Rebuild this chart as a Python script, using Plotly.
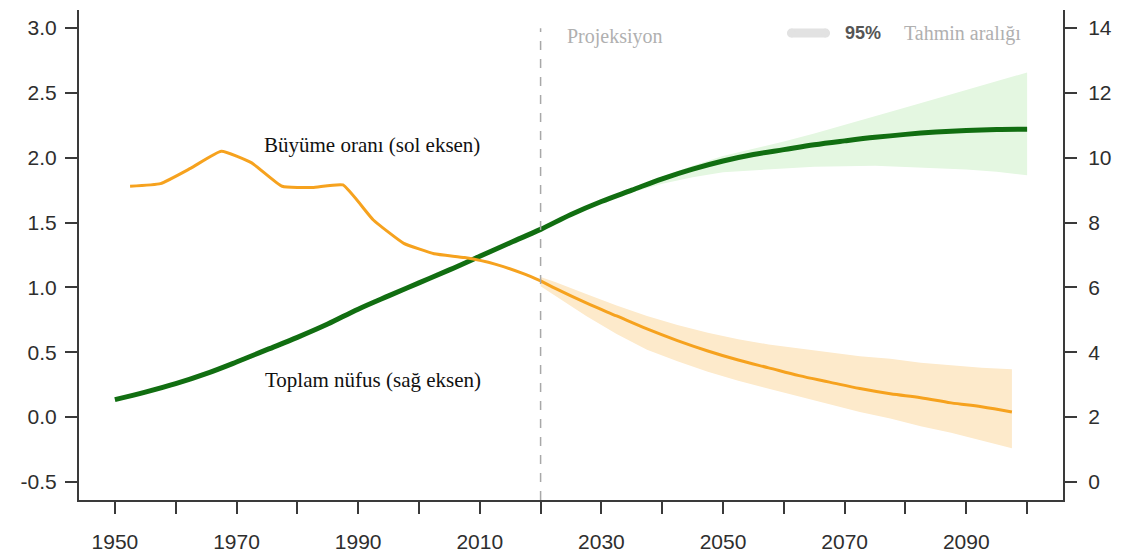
import plotly.graph_objects as go

# ---------------- data ----------------
pop_years = [1950, 1955, 1960, 1965, 1970, 1975, 1980, 1985, 1990, 1995, 2000, 2005, 2010, 2015,
             2020, 2025, 2030, 2035, 2040, 2045, 2050, 2055, 2060, 2065, 2070, 2075, 2080, 2085,
             2090, 2095, 2100]
pop_values = [2.54, 2.77, 3.03, 3.34, 3.70, 4.08, 4.46, 4.87, 5.33, 5.74, 6.14, 6.54, 6.96, 7.38,
              7.79, 8.25, 8.65, 9.00, 9.35, 9.65, 9.90, 10.10, 10.25, 10.40, 10.52, 10.63, 10.72,
              10.79, 10.84, 10.87, 10.88]

pop_band_years = [2020, 2025, 2030, 2035, 2040, 2045, 2050, 2055, 2060, 2065, 2070, 2075, 2080,
                  2085, 2090, 2095, 2100]
pop_upper = [7.80, 8.27, 8.68, 9.05, 9.42, 9.75, 10.05, 10.28, 10.50, 10.75, 11.01, 11.28, 11.55,
             11.82, 12.09, 12.36, 12.63]
pop_lower = [7.78, 8.22, 8.60, 8.93, 9.20, 9.40, 9.55, 9.62, 9.67, 9.72, 9.74, 9.75, 9.72, 9.68,
             9.64, 9.57, 9.46]

growth_hist_years = [1952.5, 1957.5, 1962.5, 1967.5, 1972.5, 1977.5, 1982.5, 1987.5, 1992.5,
                     1997.5, 2002.5, 2007.5, 2012.5, 2017.5, 2020]
growth_hist = [1.78, 1.80, 1.92, 2.05, 1.96, 1.78, 1.77, 1.79, 1.52, 1.34, 1.26, 1.23, 1.18, 1.10, 1.05]

growth_proj_years = [2020, 2022.5, 2027.5, 2032.5, 2037.5, 2042.5, 2047.5, 2052.5, 2057.5, 2062.5,
                     2067.5, 2072.5, 2077.5, 2082.5, 2087.5, 2092.5, 2097.5]
growth_proj = [1.05, 0.99, 0.88, 0.78, 0.68, 0.59, 0.51, 0.44, 0.38, 0.32, 0.27, 0.22, 0.18, 0.15,
               0.11, 0.08, 0.04]
growth_upper = [1.08, 1.04, 0.95, 0.86, 0.78, 0.71, 0.65, 0.60, 0.56, 0.53, 0.50, 0.47, 0.45, 0.42,
                0.40, 0.38, 0.37]
growth_lower = [1.01, 0.93, 0.78, 0.64, 0.52, 0.43, 0.35, 0.28, 0.22, 0.16, 0.10, 0.04, -0.01,
                -0.07, -0.12, -0.18, -0.24]

x_tickvals = [1950, 1960, 1970, 1980, 1990, 2000, 2010, 2020, 2030, 2040, 2050, 2060, 2070, 2080,
              2090, 2100]
x_ticktext = ["1950", "", "1970", "", "1990", "", "2010", "", "2030", "", "2050", "", "2070", "",
              "2090", ""]
left_tickvals = [-0.5, 0.0, 0.5, 1.0, 1.5, 2.0, 2.5, 3.0]
left_ticktext = ["-0.5", "0.0", "0.5", "1.0", "1.5", "2.0", "2.5", "3.0"]
right_tickvals = [0, 2, 4, 6, 8, 10, 12, 14]

projection_year = 2020

# ---------------- style ----------------
ORANGE = "#F6A21E"
ORANGE_BAND = "#FDEACB"
GREEN = "#116E11"
GREEN_BAND = "#E4F7E1"
AXIS = "#3a3a3a"
TICKFONT = dict(family="Liberation Sans, Arial, sans-serif", size=21, color="#2e2e2e")
SERIF = "Liberation Serif, Times New Roman, serif"

fig = go.Figure()

# green band (population, yaxis 'y' = right side)
fig.add_trace(go.Scatter(
    x=pop_band_years + pop_band_years[::-1],
    y=pop_upper + pop_lower[::-1],
    fill="toself", fillcolor=GREEN_BAND, line=dict(width=0, color=GREEN_BAND),
    mode="lines", hoverinfo="skip", showlegend=False, yaxis="y"))
# green line
fig.add_trace(go.Scatter(
    x=pop_years, y=pop_values, mode="lines",
    line=dict(color=GREEN, width=5, shape="spline"), showlegend=False, yaxis="y"))

# orange band (growth, yaxis 'y2' = left side, drawn on top layer)
fig.add_trace(go.Scatter(
    x=growth_proj_years + growth_proj_years[::-1],
    y=growth_upper + growth_lower[::-1],
    fill="toself", fillcolor=ORANGE_BAND, line=dict(width=0, color=ORANGE_BAND),
    mode="lines", hoverinfo="skip", showlegend=False, yaxis="y2"))
# orange historical
fig.add_trace(go.Scatter(
    x=growth_hist_years, y=growth_hist, mode="lines",
    line=dict(color=ORANGE, width=3, shape="spline", smoothing=0.4), showlegend=False, yaxis="y2"))
# orange projection
fig.add_trace(go.Scatter(
    x=growth_proj_years, y=growth_proj, mode="lines",
    line=dict(color=ORANGE, width=3, shape="spline"), showlegend=False, yaxis="y2"))

axis_common = dict(showline=True, linecolor=AXIS, linewidth=2, ticks="outside", ticklen=12,
                   tickwidth=2, tickcolor=AXIS, showgrid=False, zeroline=False, tickfont=TICKFONT,
                   automargin=False)

fig.update_layout(
    width=1124, height=559,
    margin=dict(l=79, r=61, t=10, b=59),
    paper_bgcolor="white", plot_bgcolor="white",
    xaxis=dict(range=[1944.1, 2105.9], tickvals=x_tickvals, ticktext=x_ticktext,
               ticklabelstandoff=10, **axis_common),
    yaxis=dict(range=[-0.556, 14.556], side="right", tickvals=right_tickvals,
               ticklabelstandoff=7, **axis_common),
    yaxis2=dict(range=[-0.639, 3.139], side="left", overlaying="y", anchor="x",
                tickvals=left_tickvals, ticktext=left_ticktext, ticklabelstandoff=4,
                **axis_common),
    showlegend=False,
)

# projection divider
fig.add_shape(type="line", xref="x", yref="paper", x0=projection_year, x1=projection_year,
              y0=0, y1=0.963, line=dict(color="#a8a8a8", width=1.5, dash="dash"))

# legend-like key
fig.add_shape(type="line", xref="x", yref="paper", x0=2061.2, x1=2066.9, y0=0.953, y1=0.953,
              line=dict(color="#e2e2e2", width=9))
fig.add_shape(type="circle", xref="x", yref="paper", x0=2060.5, x1=2061.9, y0=0.944, y1=0.962,
              line=dict(width=0), fillcolor="#e2e2e2")
fig.add_shape(type="circle", xref="x", yref="paper", x0=2066.2, x1=2067.6, y0=0.944, y1=0.962,
              line=dict(width=0), fillcolor="#e2e2e2")

fig.add_annotation(x=2073.0, y=0.953, xref="x", yref="paper", text="<b>95%</b>", showarrow=False,
                   yanchor="middle",
                   font=dict(family="Liberation Sans, Arial, sans-serif", size=18, color="#555555"))
fig.add_annotation(x=2079.4, y=0.953, xref="x", yref="paper", text="Tahmin aralığı",
                   showarrow=False, xanchor="left", yanchor="middle",
                   font=dict(family=SERIF, size=20, color="#b0b0b0"))
fig.add_annotation(x=2024.0, y=0.945, xref="x", yref="paper", text="Projeksiyon",
                   showarrow=False, xanchor="left", yanchor="middle",
                   font=dict(family=SERIF, size=20, color="#b0b0b0"))

fig.add_annotation(x=1992.2, y=2.10, xref="x", yref="y2", text="Büyüme oranı (sol eksen)",
                   showarrow=False, bgcolor="white",
                   font=dict(family=SERIF, size=21, color="#111111"))
fig.add_annotation(x=1992.4, y=0.29, xref="x", yref="y2", text="Toplam nüfus (sağ eksen)",
                   showarrow=False, bgcolor="white",
                   font=dict(family=SERIF, size=21, color="#111111"))

fig.write_html("out.html")
